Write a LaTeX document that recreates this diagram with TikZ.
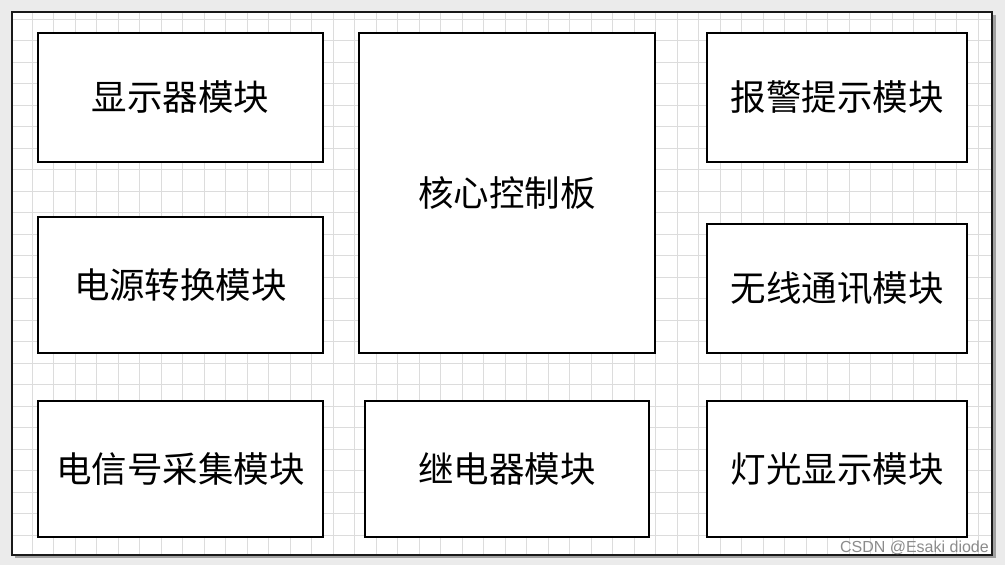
\documentclass[tikz,border=0pt]{standalone}
\usepackage{fontspec}
\newfontfamily\cjk{Noto Sans CJK SC}
\newfontfamily\wmfont{Liberation Sans}
\usetikzlibrary{positioning}
\definecolor{PageGray}{RGB}{235,235,235}
\definecolor{GridGray}{RGB}{220,220,220}
\definecolor{ShadowGray}{RGB}{160,160,160}
\tikzset{
  modbox/.style={draw,line width=1.3pt,fill=white,align=center,
                 font=\cjk\fontsize{35.5}{40}\selectfont,inner sep=0pt},
}
\begin{document}
\begin{tikzpicture}[x=1pt,y=-1pt]
\useasboundingbox (0,0) rectangle (1005,565);
\fill[PageGray] (0,0) rectangle (1005,565);
% page with grid
\fill[ShadowGray] (15,15) rectangle (995.5,558);
\fill[white] (12,12) rectangle (992,555);
\begin{scope}
\clip (12,12) rectangle (992,555);
\foreach \k in {1,...,45} \draw[GridGray,line width=0.9pt] (10.8+21.5*\k,12) -- (10.8+21.5*\k,555);
\foreach \k in {1,...,25} \draw[GridGray,line width=0.9pt] (12,556.5-21.5*\k) -- (992,556.5-21.5*\k);
\end{scope}
\draw[line width=2.6pt,black!90] (12,12) rectangle (992,555);
% modules
\node[modbox,minimum width=285pt,minimum height=129pt] (disp) at (180.5,97.5) {显示器模块};
\node[modbox,minimum width=285pt,minimum height=136pt] (power) at (180.5,285) {电源转换模块};
\node[modbox,minimum width=285pt,minimum height=136pt] (signal) at (180.5,469) {电信号采集模块};
\node[modbox,minimum width=296pt,minimum height=320pt] (core) at (507,193) {核心控制板};
\node[modbox,minimum width=284pt,minimum height=136pt] (relay) at (507,469) {继电器模块};
\node[modbox,minimum width=260pt,minimum height=129pt] (alarm) at (837,97.5) {报警提示模块};
\node[modbox,minimum width=260pt,minimum height=129pt] (wireless) at (837,288.5) {无线通讯模块};
\node[modbox,minimum width=260pt,minimum height=136pt] (light) at (837,469) {灯光显示模块};
\node[anchor=east,text=black!45,font=\wmfont\fontsize{16}{18}\selectfont,inner sep=0pt] (mark) at (989,548) {CSDN @Esaki diode};
\end{tikzpicture}
\end{document}
